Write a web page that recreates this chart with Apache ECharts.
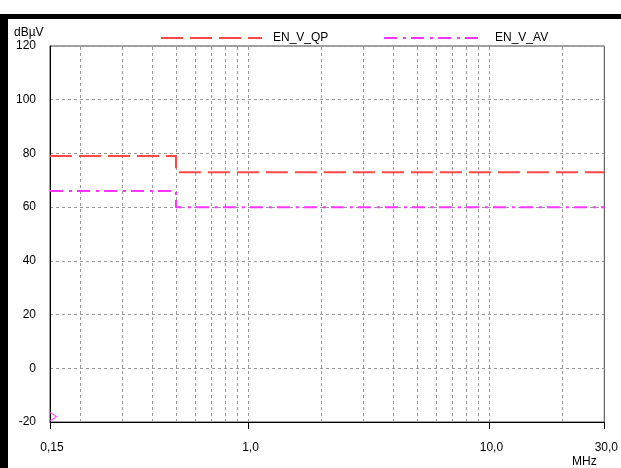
<!DOCTYPE html>
<html><head><meta charset="utf-8">
<script src="https://cdn.jsdelivr.net/npm/echarts@6/dist/echarts.min.js"></script>
<style>html,body{margin:0;padding:0;background:#fff}#c{width:621px;height:468px}</style>
</head><body><div id="c"></div>
<script>
// ---- data ----
const qpFreq = [0.15, 0.5, 0.5, 30];
const qpLevel = [79, 79, 73, 73];
const avFreq = [0.15, 0.5, 0.5, 30];
const avLevel = [66, 66, 60, 60];
const gridFreqs = [0.2, 0.3, 0.4, 0.5, 0.6, 0.7, 0.8, 0.9, 1, 2, 3, 4, 5, 6, 7, 8, 9, 10, 20];
const yMin = -20, yMax = 120, yStep = 20;
const xMin = 0.15, xMax = 30;
const xTickLabels = {'0.15': '0,15', '1': '1,0', '10': '10,0', '30': '30,0'};
const markerFreq = [0.15];
const markerLevel = [-18];
const seriesNames = ['EN_V_QP', 'EN_V_AV'];
// ---------------

const FONT = '"Liberation Sans", Arial, sans-serif';
const FS = 12;
const zip = (a, b) => a.map((v, i) => [v, b[i]]);
const chart = echarts.init(document.getElementById('c'), null, {renderer: 'canvas'});
const legendCommon = {
  top: 32, padding: 0, itemHeight: 14, itemGap: 0,
  itemStyle: {opacity: 0},
  textStyle: {fontSize: FS, color: '#000', fontFamily: FONT}
};
chart.setOption({
  animation: false,
  backgroundColor: '#fff',
  textStyle: {fontFamily: FONT},
  grid: {left: 50, right: 16, top: 46, bottom: 46, show: true, borderColor: '#444', borderWidth: 1, backgroundColor: 'transparent'},
  legend: [
    Object.assign({}, legendCommon, {data: [seriesNames[0]], left: 160, itemWidth: 101,
      textStyle: Object.assign({}, legendCommon.textStyle, {padding: [0, 0, 0, 6]})}),
    Object.assign({}, legendCommon, {data: [seriesNames[1]], left: 383, itemWidth: 99,
      textStyle: Object.assign({}, legendCommon.textStyle, {padding: [0, 0, 0, 7]})})
  ],
  xAxis: {
    type: 'log', logBase: 10, min: xMin, max: xMax,
    axisLine: {onZero: false, lineStyle: {color: '#000', width: 1}},
    axisTick: {show: true, length: 7, lineStyle: {color: '#000'}},
    splitLine: {show: false},
    minorTick: {show: false},
    axisLabel: {
      margin: 20, fontSize: FS, color: '#000', fontFamily: FONT,
      showMinLabel: true, showMaxLabel: true, padding: [0, 0, 0, 4],
      formatter: v => {
        const k = String(+v.toPrecision(6));
        if (xTickLabels[k]) return xTickLabels[k];
        return v < 1 ? v.toFixed(2).replace('.', ',') : v.toFixed(1).replace('.', ',');
      }
    }
  },
  yAxis: {
    type: 'value', min: yMin, max: yMax, interval: yStep,
    axisLine: {show: true, onZero: false, lineStyle: {color: '#000', width: 1}},
    axisTick: {show: false},
    splitLine: {show: true, lineStyle: {color: '#999', type: [3, 3], width: 1}},
    axisLabel: {margin: 14, fontSize: FS, color: '#000', fontFamily: FONT}
  },
  graphic: [
    {type: 'rect', shape: {x: 0, y: 14, width: 621, height: 5}, style: {fill: '#000'}, z: 100},
    {type: 'rect', shape: {x: 0, y: 14, width: 8, height: 454}, style: {fill: '#000'}, z: 100},
    {type: 'text', left: 14, top: 27, style: {text: 'dBµV', font: FS + 'px ' + FONT, fill: '#000'}},
    {type: 'text', left: 572, top: 456, style: {text: 'MHz', font: FS + 'px ' + FONT, fill: '#000'}}
  ],
  series: [
    {
      name: 'grid', type: 'line', data: [], z: 1, silent: true,
      markLine: {
        silent: true, symbol: ['none', 'none'], label: {show: false},
        lineStyle: {color: '#999', type: [3, 3], width: 1},
        data: gridFreqs.map(f => ({xAxis: f}))
      }
    },
    {
      name: seriesNames[0], type: 'line', data: zip(qpFreq, qpLevel), symbol: 'none', z: 5,
      lineStyle: {color: '#FF4848', width: 2, type: [22, 7]}, itemStyle: {color: '#FF4848'}
    },
    {
      name: seriesNames[1], type: 'line', data: zip(avFreq, avLevel), symbol: 'none', z: 5,
      lineStyle: {color: '#FF33FF', width: 2, type: [13, 6, 3, 5]}, itemStyle: {color: '#FF33FF'}
    },
    {
      name: 'marker', type: 'scatter', data: zip(markerFreq, markerLevel), z: 6, silent: true,
      symbol: 'path://M0,0 L10,5 L0,10', symbolSize: [7, 9], symbolOffset: [3, 0],
      itemStyle: {color: 'none', borderColor: '#FF33FF', borderWidth: 1}
    }
  ]
});
</script></body></html>
